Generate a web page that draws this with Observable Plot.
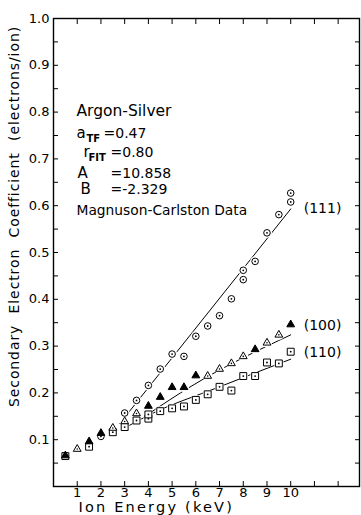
<!DOCTYPE html>
<html><head><meta charset="utf-8">
<script src="https://cdn.jsdelivr.net/npm/d3@7"></script>
<script src="https://cdn.jsdelivr.net/npm/@observablehq/plot@0.6"></script>
<style>body{margin:0;background:#fff} svg{display:block}</style>
</head><body><div id="chart"></div>
<script>
// (111) circles
const energy111 = [2, 3, 3.5, 4, 4.5, 5, 5.5, 6, 6.5, 7, 7.5, 8, 8, 8.5, 9, 9.5, 10, 10];
const coef111   = [0.107, 0.157, 0.184, 0.216, 0.251, 0.283, 0.278, 0.321, 0.343, 0.365, 0.401, 0.442, 0.462, 0.481, 0.542, 0.581, 0.608, 0.627];
// (100) triangles (1 = filled, 0 = open)
const energy100 = [0.5, 1, 1.5, 2, 2.5, 3, 3.5, 4, 4.5, 5, 5.5, 6, 6.5, 7, 7.5, 8, 8.5, 9, 9.5, 10];
const coef100   = [0.066, 0.080, 0.096, 0.114, 0.125, 0.139, 0.156, 0.172, 0.191, 0.212, 0.212, 0.237, 0.236, 0.251, 0.263, 0.278, 0.293, 0.307, 0.324, 0.346];
const filled100 = [1, 0, 1, 1, 0, 0, 0, 1, 1, 1, 1, 1, 0, 0, 0, 0, 1, 0, 0, 1];
// (110) squares
const energy110 = [0.5, 1.5, 2.5, 3, 3.5, 4, 4, 4.5, 5, 5.5, 6, 6.5, 7, 7.5, 8, 8.5, 9, 9.5, 10];
const coef110   = [0.065, 0.085, 0.116, 0.127, 0.141, 0.145, 0.154, 0.161, 0.167, 0.171, 0.185, 0.197, 0.213, 0.205, 0.236, 0.236, 0.265, 0.263, 0.288];
// theory curves
const fitX111 = [2.8, 10];        const fitY111 = [0.135, 0.593];
const fitX100 = [4, 5.8, 10];     const fitY100 = [0.155, 0.214, 0.324];
const fitX110 = [3, 4, 7, 10];    const fitY110 = [0.125, 0.152, 0.213, 0.272];
// series labels
const seriesLabels = ["(111)", "(100)", "(110)"];
const labelX = [10, 10, 10];
const labelY = [0.593, 0.344, 0.286];
// ticks
const xTicks = [1, 2, 3, 4, 5, 6, 7, 8, 9, 10, 11, 12];
const xTickLabels = [1, 2, 3, 4, 5, 6, 7, 8, 9, 10];
const yTicks = [0.05, 0.1, 0.15, 0.2, 0.25, 0.3, 0.35, 0.4, 0.45, 0.5, 0.55, 0.6, 0.65, 0.7, 0.75, 0.8, 0.85, 0.9, 0.95];
const yTickLabels = [0.1, 0.2, 0.3, 0.4, 0.5, 0.6, 0.7, 0.8, 0.9, 1.0];
// texts
const xTitle = "Ion Energy (keV)";
const yTitle = "Secondary Electron Coefficient (electrons/ion)";
const systemName = "Argon-Silver";
const paramSymbols = ["a", "r", "A", "B"];
const paramSubs = ["TF", "FIT", "", ""];
const paramValues = ["=0.47", "=0.80", "=10.858", "=-2.329"];
const sourceName = "Magnuson-Carlston Data";

const pts = (xs, ys) => xs.map((x, i) => ({x, y: ys[i]}));
const circles = pts(energy111, coef111);
const triangles = energy100.map((x, i) => ({x, y: coef100[i], filled: filled100[i] === 1}));
const squares = pts(energy110, coef110);
const all = [...circles, ...triangles, ...squares];
const labels = seriesLabels.map((t, i) => ({t, x: labelX[i], y: labelY[i]}));

const paramBaselines = [137, 156, 177, 193];
const symDx = [23, 30, 24, 27];
const subDx = [33, 35, 0, 0];
const valDx = [50, 57, 57, 57];
const textMarks = [];
textMarks.push(Plot.text([systemName], {text: d => d, frameAnchor: "top-left", dx: 23, dy: 115 - 18, textAnchor: "start", lineAnchor: "bottom", fontSize: 15.5}));
paramSymbols.forEach((s, i) => {
  textMarks.push(Plot.text([s], {text: d => d, frameAnchor: "top-left", dx: symDx[i], dy: paramBaselines[i] - 18, textAnchor: "start", lineAnchor: "bottom", fontSize: 15}));
  if (paramSubs[i]) textMarks.push(Plot.text([paramSubs[i]], {text: d => d, frameAnchor: "top-left", dx: subDx[i], dy: paramBaselines[i] - 18 + 4, textAnchor: "start", lineAnchor: "bottom", fontSize: 10, fontWeight: "bold"}));
  textMarks.push(Plot.text([paramValues[i]], {text: d => d, frameAnchor: "top-left", dx: valDx[i], dy: paramBaselines[i] - 18, textAnchor: "start", lineAnchor: "bottom", fontSize: 14}));
});
textMarks.push(Plot.text([sourceName], {text: d => d, frameAnchor: "top-left", dx: 23, dy: 214 - 18, textAnchor: "start", lineAnchor: "bottom", fontSize: 13.8}));

const chart = Plot.plot({
  width: 361, height: 515,
  marginLeft: 53, marginRight: 2, marginTop: 18, marginBottom: 29,
  x: {domain: [0, 12.9]},
  y: {domain: [0, 1.0]},
  style: {fontFamily: "DejaVu Sans", fontSize: "13px", background: "white", color: "black"},
  marks: [
    Plot.line(pts(fitX111, fitY111), {x: "x", y: "y", stroke: "black", strokeWidth: 1}),
    Plot.line(pts(fitX100, fitY100), {x: "x", y: "y", stroke: "black", strokeWidth: 1, curve: "monotone-x"}),
    Plot.line(pts(fitX110, fitY110), {x: "x", y: "y", stroke: "black", strokeWidth: 1, curve: "monotone-x"}),
    Plot.dot(all, {x: "x", y: "y", r: 5, fill: "white"}),
    Plot.dot(circles, {x: "x", y: "y", r: 3.3, fill: "white", stroke: "black", strokeWidth: 1}),
    Plot.dot(circles, {x: "x", y: "y", r: 0.9, fill: "black"}),
    Plot.dot(squares, {x: "x", y: "y", symbol: "square", r: 3.9, fill: "white", stroke: "black", strokeWidth: 1}),
    Plot.dot(squares, {x: "x", y: "y", r: 0.9, fill: "black"}),
    Plot.dot(triangles, {x: "x", y: "y", symbol: "triangle", r: 2.9, fill: d => d.filled ? "black" : "white", stroke: "black", strokeWidth: 1}),
    Plot.dot(triangles.filter(d => !d.filled), {x: "x", y: "y", r: 0.8, fill: "black"}),
    Plot.text(labels, {x: "x", y: "y", text: "t", dx: 13, textAnchor: "start", fontSize: 14}),
    Plot.frame({stroke: "black", strokeWidth: 1.4}),
    Plot.axisY(yTicks, {anchor: "left", tickSize: -5, tickFormat: () => "", label: null}),
    Plot.axisY(yTicks, {anchor: "right", tickSize: -5, tickFormat: () => "", label: null}),
    Plot.axisY(yTickLabels, {anchor: "left", tickSize: 0, tickPadding: 4, tickFormat: d3.format(".1f"), label: null, fontSize: 13}),
    Plot.axisX(xTicks, {anchor: "bottom", tickSize: -5, tickFormat: () => "", label: null}),
    Plot.axisX(xTicks, {anchor: "top", tickSize: -5, tickFormat: () => "", label: null}),
    Plot.axisX(xTickLabels, {anchor: "bottom", tickSize: 0, tickPadding: 1, label: null, fontSize: 13}),
    Plot.text([xTitle], {text: d => d, frameAnchor: "bottom-left", dx: 25, dy: 25, textAnchor: "start", lineAnchor: "bottom", fontSize: 14.5}),
    Plot.text([yTitle], {text: d => d, frameAnchor: "left", rotate: -90, dx: -39, dy: -36, textAnchor: "middle", lineAnchor: "middle", fontSize: 14}),
    ...textMarks
  ]
});
const svg = d3.select(chart);
svg.selectAll("text").filter(function() { return this.textContent === xTitle; }).style("letter-spacing", "2.2px");
svg.selectAll("text").filter(function() { return this.textContent === yTitle; }).style("letter-spacing", "0.9px").style("word-spacing", "6px");
document.getElementById("chart").append(chart);
</script>
</body></html>
